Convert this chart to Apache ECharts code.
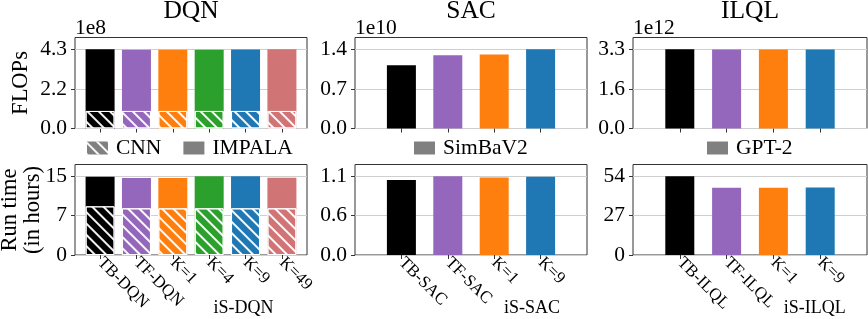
<!DOCTYPE html>
<html><head><meta charset="utf-8">
<script src="https://cdn.jsdelivr.net/npm/echarts@6/dist/echarts.min.js"></script>
<style>html,body{margin:0;padding:0;background:#fff}#c{width:868px;height:319px}</style>
</head><body><div id="c"></div>
<script>
// ---------- data ----------
const dqnCategories = ['TB-DQN', 'TF-DQN', 'K=1', 'K=4', 'K=9', 'K=49'];
const sacCategories = ['TB-SAC', 'TF-SAC', 'K=1', 'K=9'];
const ilqlCategories = ['TB-ILQL', 'TF-ILQL', 'K=1', 'K=9'];
const dqnColors = ['#000000', '#9467bd', '#ff7f0e', '#2ca02c', '#1f77b4', '#d07476'];
const fourColors = ['#000000', '#9467bd', '#ff7f0e', '#1f77b4'];

// FLOPs (scaled by offsets 1e8 / 1e10 / 1e12)
const dqnFlopsImpala = [4.33, 4.31, 4.31, 4.31, 4.32, 4.33];
const dqnFlopsCnn = [0.96, 0.96, 0.96, 0.96, 0.96, 0.96];
const sacFlops = [1.095, 1.27, 1.283, 1.37];
const ilqlFlops = [3.28, 3.27, 3.27, 3.27];
// Run time (hours)
const dqnTimeImpala = [14.87, 14.62, 14.62, 14.94, 14.94, 14.68];
const dqnTimeCnn = [9.24, 8.86, 8.86, 8.86, 8.86, 8.86];
const sacTime = [1.05, 1.10, 1.085, 1.095];
const ilqlTime = [54.2, 46.3, 46.3, 46.5];

// tick labels (at 0, max/2, max)
const dqnFlopsTicks = ['0.0', '2.2', '4.3'];
const sacFlopsTicks = ['0.0', '0.7', '1.4'];
const ilqlFlopsTicks = ['0.0', '1.6', '3.3'];
const dqnTimeTicks = ['0', '7', '15'];
const sacTimeTicks = ['0.0', '0.6', '1.1'];
const ilqlTimeTicks = ['0', '27', '54'];

const offsets = ['1e8', '1e10', '1e12'];
const titles = ['DQN', 'SAC', 'ILQL'];
const groupLabels = ['iS-DQN', 'iS-SAC', 'iS-ILQL'];

// ---------- layout ----------
const FONT = '"Liberation Serif", "Times New Roman", serif';
const hatch = { symbol: 'rect', symbolSize: 1, color: 'rgba(255,255,255,0.95)',
  dashArrayX: [1, 0], dashArrayY: [1.2, 5.3], rotation: Math.PI / 4 };
const colL = [75, 355, 633], colW = [232, 232, 234];
const rowT = [37.5, 164.5], rowH = [91, 90.5];

const panels = [
  { r: 0, c: 0, cats: dqnCategories, colors: dqnColors, xMin: -0.69, xMax: 5.69, ticks: dqnFlopsTicks,
    series: [{ name: 'IMPALA', data: dqnFlopsImpala }, { name: 'CNN', data: dqnFlopsCnn, hatch: true }] },
  { r: 0, c: 1, cats: sacCategories, colors: fourColors, xMin: -1, xMax: 4, ticks: sacFlopsTicks,
    series: [{ name: 'SimBaV2', data: sacFlops }] },
  { r: 0, c: 2, cats: ilqlCategories, colors: fourColors, xMin: -1, xMax: 4, ticks: ilqlFlopsTicks,
    series: [{ name: 'GPT-2', data: ilqlFlops }] },
  { r: 1, c: 0, cats: dqnCategories, colors: dqnColors, xMin: -0.69, xMax: 5.69, ticks: dqnTimeTicks,
    series: [{ name: 'IMPALA', data: dqnTimeImpala }, { name: 'CNN', data: dqnTimeCnn, hatch: true }] },
  { r: 1, c: 1, cats: sacCategories, colors: fourColors, xMin: -1, xMax: 4, ticks: sacTimeTicks,
    series: [{ name: 'SimBaV2', data: sacTime }] },
  { r: 1, c: 2, cats: ilqlCategories, colors: fourColors, xMin: -1, xMax: 4, ticks: ilqlTimeTicks,
    series: [{ name: 'GPT-2', data: ilqlTime }] }
];

const grid = [], xAxis = [], yAxis = [], series = [];
panels.forEach((p, i) => {
  grid.push({ left: colL[p.c], top: rowT[p.r], width: colW[p.c], height: rowH[p.r],
    show: true, borderColor: '#333', borderWidth: 1, containLabel: false });
  const idx = p.cats.map((_, j) => j);
  xAxis.push({ type: 'value', gridIndex: i, min: p.xMin, max: p.xMax, position: 'bottom',
    axisLine: { show: false, onZero: false }, splitLine: { show: false },
    axisTick: { show: true, customValues: idx, length: 4, lineStyle: { color: '#333' } },
    axisLabel: { show: p.r === 1, customValues: idx, formatter: v => p.cats[Math.round(v)],
      rotate: -45, margin: 5, fontSize: 17, fontFamily: FONT, color: '#000' } });
  let M = 0;
  p.series.forEach(s => s.data.forEach(v => { if (v > M) M = v; }));
  const tv = [0, M / 2, M];
  yAxis.push({ type: 'value', gridIndex: i, min: 0, max: M * 1.15, interval: M / 2, position: 'left',
    axisLine: { show: false, onZero: false },
    axisTick: { show: true, customValues: tv, length: 4, lineStyle: { color: '#333' } },
    axisLabel: { customValues: tv, margin: 8, fontSize: 21.5, fontFamily: FONT, color: '#000',
      formatter: v => { let b = 0; tv.forEach((t, k) => { if (Math.abs(t - v) < Math.abs(tv[b] - v)) b = k; }); return p.ticks[b]; } },
    splitLine: { show: true, lineStyle: { color: '#cfcfcf', width: 1 } } });
  p.series.forEach(s => {
    series.push({ type: 'bar', name: s.name, xAxisIndex: i, yAxisIndex: i, barWidth: 29, barGap: '-100%',
      itemStyle: s.hatch ? { decal: hatch, borderColor: '#fff', borderWidth: 1 } : {},
      emphasis: { disabled: true },
      data: s.data.map((v, j) => ({ value: [j, v], itemStyle: { color: p.colors[j] } })) });
  });
});

const legendBase = { orient: 'horizontal', icon: 'rect', itemWidth: 21, itemHeight: 13, itemGap: 22,
  selectedMode: false, top: 137, padding: 0,
  itemStyle: { color: '#808080', borderWidth: 0 },
  textStyle: { fontSize: 21.5, fontFamily: FONT, color: '#000', padding: [0, 0, 0, 3] } };
const legend = [
  Object.assign({}, legendBase, { left: 87, data: ['CNN', 'IMPALA'] }),
  Object.assign({}, legendBase, { left: 414, data: ['SimBaV2'] }),
  Object.assign({}, legendBase, { left: 707, data: ['GPT-2'] })
];

const txt = (text, x, y, size, align, rot) => ({ type: 'text', x: x, y: y, rotation: rot || 0,
  style: { text: text, fontSize: size, fontFamily: FONT, fill: '#000', textAlign: align, textVerticalAlign: 'middle' } });
const graphic = [];
titles.forEach((t, c) => graphic.push(txt(t, colL[c] + colW[c] / 2, 11.5, 25.5, 'center')));
offsets.forEach((t, c) => graphic.push(txt(t, colL[c], 28.5, 21.5, 'left')));
const groupX = [243.5, 532, 814.7];
groupLabels.forEach((t, c) => graphic.push(txt(t, groupX[c], 308.5, 18, 'center')));
graphic.push(txt('FLOPs', 21, 83, 22.5, 'center', Math.PI / 2));
graphic.push(txt('Run time', 10, 210, 22.5, 'center', Math.PI / 2));
graphic.push(txt('(in hours)', 33, 210, 22.5, 'center', Math.PI / 2));

const chart = echarts.init(document.getElementById('c'));
chart.setOption({ animation: false, backgroundColor: '#fff', grid, xAxis, yAxis, series, legend, graphic });
</script></body></html>
